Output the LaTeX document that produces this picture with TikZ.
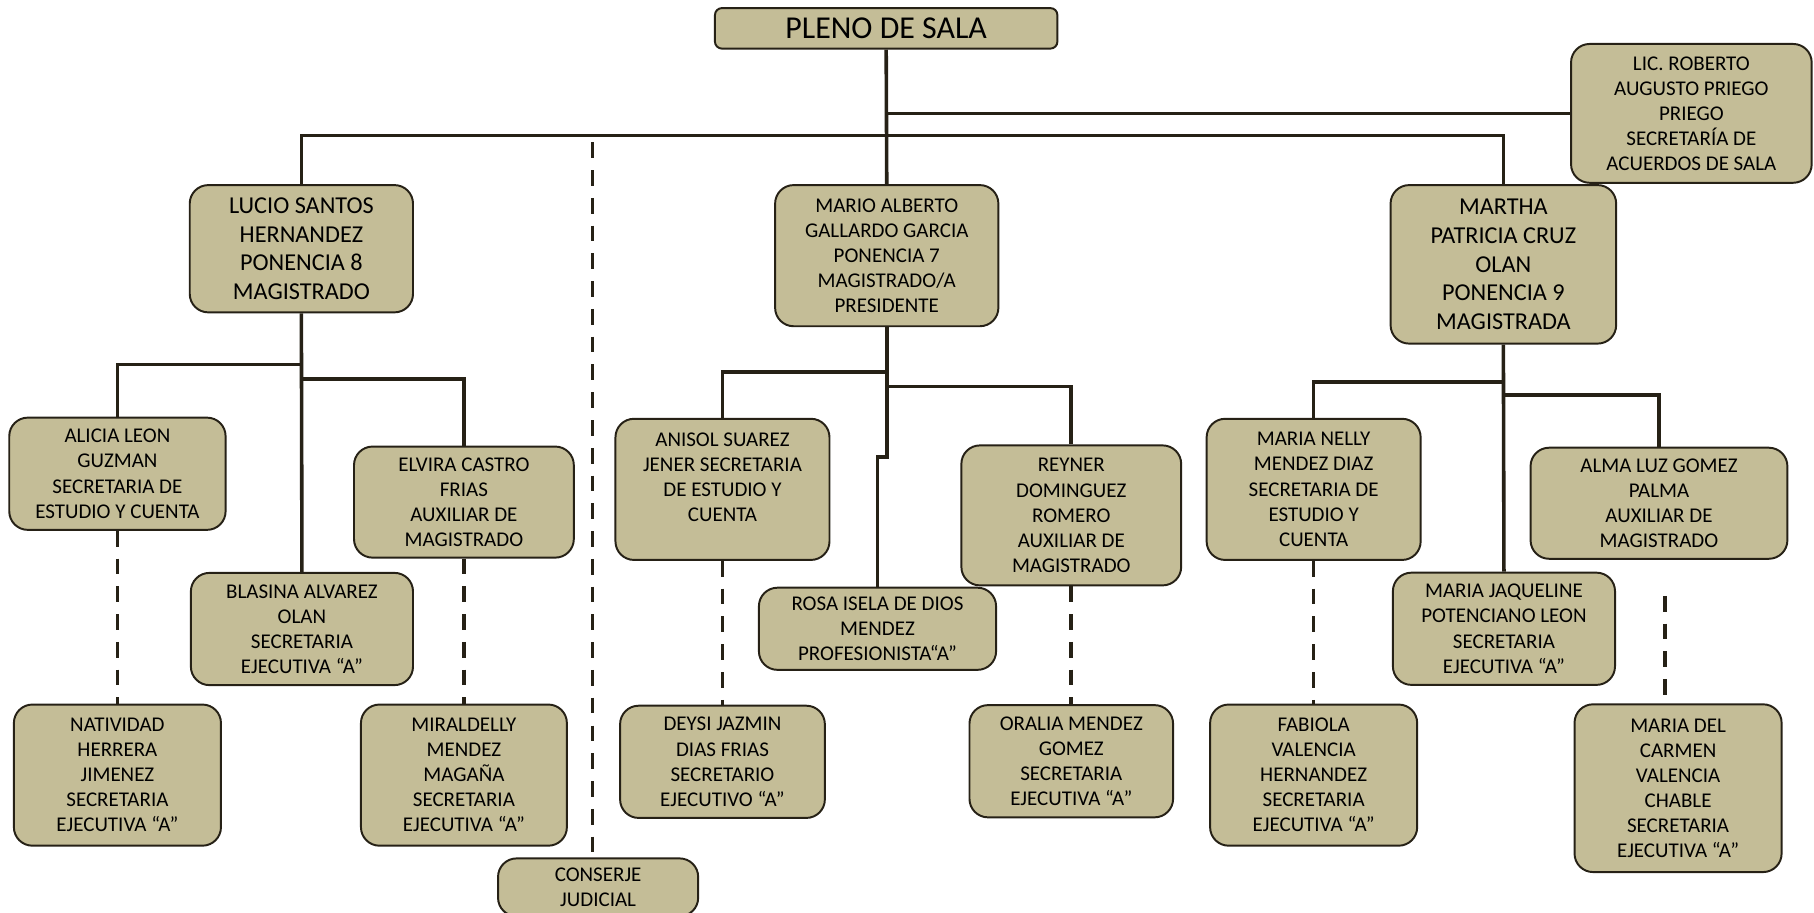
\documentclass[tikz,border=0pt]{standalone}
\usepackage{fontspec}
\setmainfont{Carlito}
\definecolor{boxfill}{HTML}{C4BD97}
\definecolor{boxedge}{HTML}{262116}
\begin{document}
\begin{tikzpicture}[x=0.025cm, y=-0.025cm,
  orgbox/.style 2 args={draw=boxedge, fill=boxfill, line width=1.2pt, rounded corners=0.4cm,
    align=center, inner sep=0pt, minimum width=#1*0.025cm, minimum height=#2*0.025cm,
    font=\fontsize{12.9}{15.4}\selectfont},
  bigbox/.style 2 args={orgbox={#1}{#2}, font=\fontsize{14.9}{17.6}\selectfont},
  link/.style={draw=boxedge, line width=2.2pt},
  dashlink/.style={link, dash pattern=on 0.34cm off 0.26cm}]
\clip (0,0) rectangle (1568,789);
\node[orgbox={296}{35}, rounded corners=0.15cm, font=\fontsize{19.6}{23}\selectfont] (pleno) at (766,24.5) {PLENO DE SALA};
\node[orgbox={208}{120}] (roberto) at (1462,98) {LIC. ROBERTO\\AUGUSTO PRIEGO\\PRIEGO\\SECRETARÍA DE\\ACUERDOS DE SALA};
\node[bigbox={193}{110}] (lucio) at (260.5,215) {LUCIO SANTOS\\HERNANDEZ\\PONENCIA 8\\MAGISTRADO};
\node[orgbox={193}{122}] (mario) at (766.5,221) {MARIO ALBERTO\\GALLARDO GARCIA\\PONENCIA 7\\MAGISTRADO/A\\PRESIDENTE};
\node[bigbox={195}{137}] (martha) at (1299.5,228.5) {MARTHA\\PATRICIA CRUZ\\OLAN\\PONENCIA 9\\MAGISTRADA};
\node[orgbox={187}{97}] (alicia) at (101.5,409.5) {ALICIA LEON\\GUZMAN\\SECRETARIA DE\\ESTUDIO Y CUENTA};
\node[orgbox={190}{96}] (elvira) at (401,434) {ELVIRA CASTRO\\FRIAS\\AUXILIAR DE\\MAGISTRADO};
\node[orgbox={192}{97}] (blasina) at (261,543.7) {BLASINA ALVAREZ\\OLAN\\SECRETARIA\\EJECUTIVA “A”};
\node[orgbox={179}{122}] (natividad) at (101.5,670) {NATIVIDAD\\HERRERA\\JIMENEZ\\SECRETARIA\\EJECUTIVA “A”};
\node[orgbox={178}{122}] (miraldelly) at (401,670) {MIRALDELLY\\MENDEZ\\MAGAÑA\\SECRETARIA\\EJECUTIVA “A”};
\node[orgbox={173}{50}] (conserje) at (517,767) {CONSERJE\\JUDICIAL};
\node[orgbox={185}{122}] (anisol) at (624.5,423) {ANISOL SUAREZ\\JENER SECRETARIA\\DE ESTUDIO Y\\CUENTA\\\phantom{C}};
\node[orgbox={205}{71}] (rosa) at (758.5,543.5) {ROSA ISELA DE DIOS\\MENDEZ\\PROFESIONISTA“A”};
\node[orgbox={190}{121}] (reyner) at (926,445.5) {REYNER\\DOMINGUEZ\\ROMERO\\AUXILIAR DE\\MAGISTRADO};
\node[orgbox={177}{97}] (deysi) at (624.5,658.5) {DEYSI JAZMIN\\DIAS FRIAS\\SECRETARIO\\EJECUTIVO “A”};
\node[orgbox={176}{97}] (oralia) at (926,658) {ORALIA MENDEZ\\GOMEZ\\SECRETARIA\\EJECUTIVA “A”};
\node[orgbox={185}{122}] (nelly) at (1135.5,423) {MARIA NELLY\\MENDEZ DIAZ\\SECRETARIA DE\\ESTUDIO Y\\CUENTA};
\node[orgbox={222}{96}] (alma) at (1434,435) {ALMA LUZ GOMEZ\\PALMA\\AUXILIAR DE\\MAGISTRADO};
\node[orgbox={192}{97}] (jaqueline) at (1300,543.5) {MARIA JAQUELINE\\POTENCIANO LEON\\SECRETARIA\\EJECUTIVA “A”};
\node[orgbox={179}{122}] (fabiola) at (1135.5,670) {FABIOLA\\VALENCIA\\HERNANDEZ\\SECRETARIA\\EJECUTIVA “A”};
\node[orgbox={179}{145}] (carmen) at (1450.5,681.3) {MARIA DEL\\CARMEN\\VALENCIA\\CHABLE\\SECRETARIA\\EJECUTIVA “A”};
\coordinate (bus) at (mario.north |- 0,117);
\draw[link] (pleno.south) -- (mario.north);
\draw[link] (lucio.north) |- (bus) -| (martha.north);
\draw[link] (roberto.west) -- (roberto.west -| mario.north);
\coordinate (conserjetop) at (512,123);
\draw[dashlink] (conserjetop) -- (conserjetop |- conserje.north);
\coordinate (lucioa) at (lucio.south |- 0,315);
\coordinate (luciob) at (lucio.south |- 0,327.5);
\draw[link] (lucio.south) -- (blasina.north);
\draw[link] (lucioa) -| (alicia.north);
\draw[link] (luciob) -| (elvira.north);
\coordinate (marioa) at (mario.south |- 0,321.5);
\coordinate (mariob) at (mario.south |- 0,334);
\coordinate (mariojog) at (mario.south |- 0,395);
\draw[link] (mario.south) -- (mariojog) -| (rosa.north);
\draw[link] (marioa) -| (anisol.north);
\draw[link] (mariob) -| (reyner.north);
\coordinate (marthaa) at (martha.south |- 0,330);
\coordinate (marthab) at (martha.south |- 0,341.5);
\draw[link] (martha.south) -- (jaqueline.north);
\draw[link] (marthaa) -| (nelly.north);
\draw[link] (marthab) -| (alma.north);
\draw[dashlink] (alicia.south) -- (natividad.north);
\draw[dashlink] (elvira.south) -- (miraldelly.north);
\draw[dashlink] (anisol.south) -- (deysi.north);
\draw[dashlink] (reyner.south) -- (oralia.north);
\draw[dashlink] (nelly.south) -- (fabiola.north);
\coordinate (carmena) at (1439,515);
\coordinate (carmenb) at (1439,601);
\draw[dashlink] (carmena) -- (carmenb);
\end{tikzpicture}
\end{document}
